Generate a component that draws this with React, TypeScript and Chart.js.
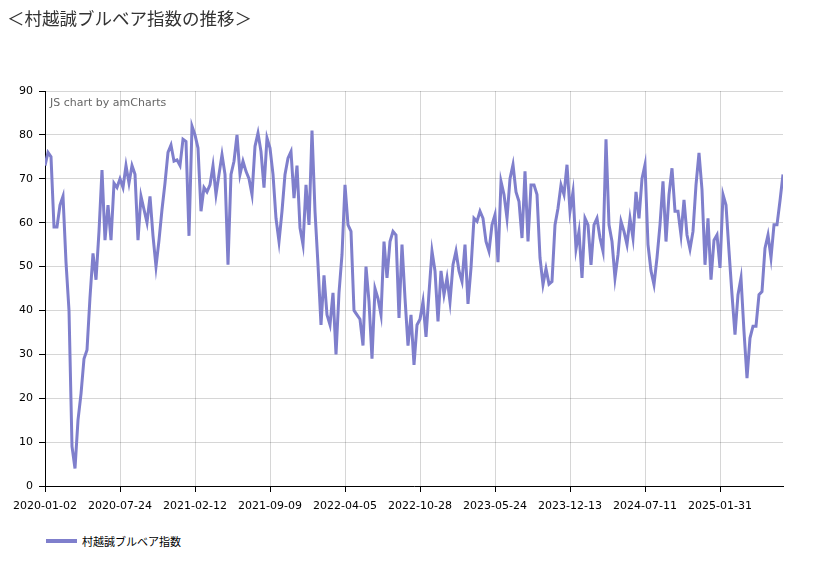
import { useEffect, useRef } from 'react';
import { Chart, registerables } from 'chart.js';

Chart.register(...registerables);

const seriesName = '村越誠ブルベア指数';

// tick labels every 25 samples along the x axis
const tickLabels = [
  '2020-01-02', '2020-07-24', '2021-02-12', '2021-09-09', '2022-04-05',
  '2022-10-28', '2023-05-24', '2023-12-13', '2024-07-11', '2025-01-31',
];
const tickStep = 25;

// index values, one sample every ~8 trading days
const bullBear = [
  73, 76, 75, 59, 59, 64, 66, 51, 40, 9, 4, 15, 21, 29, 31, 43, 53, 47, 58, 72,
  56, 64, 56, 69, 68, 70, 68, 73, 69, 73, 71, 56, 66, 63, 60, 66, 57, 50, 56, 63,
  69, 76, 77.7, 74, 74.3, 73, 79, 78.5, 57, 82, 80, 77, 62.6, 68, 67, 68.6, 73, 66.4, 71, 75.5,
  71, 50.4, 71, 74, 80, 71, 74, 71.7, 70, 66.4, 77.4, 80.4, 76.2, 68, 79.3, 77, 71, 61, 55.7, 62.6,
  71, 74.7, 76.2, 65.6, 73, 58.8, 55, 68.6, 59.5, 81, 62.6, 50.4, 36.7, 48, 39, 36.7, 44, 30, 44, 52.7,
  68.6, 59.5, 58, 40, 39, 38, 32, 50, 42, 29, 45, 42.7, 39, 55.7, 47.4, 55.7, 58, 57.2, 38.3, 55,
  42.8, 32, 39, 27.6, 36.7, 38, 42, 34, 44, 53.5, 49, 37.5, 49, 43.6, 47.4, 42, 50.4, 53.5, 49, 46.6,
  55, 41.5, 49.7, 61, 60.3, 62.6, 61, 55.7, 53.5, 59.5, 61.8, 51, 69.4, 66.4, 61, 70, 73.2, 67, 64.8, 56.5,
  71.7, 55.7, 68.6, 68.6, 66.4, 52, 45.9, 49.5, 46, 46.6, 59.5, 63.3, 68.6, 66.4, 73.2, 62.6, 67, 54, 58, 47.4,
  61, 59.5, 50.4, 59.5, 61, 56.5, 53.5, 79, 59.5, 55.7, 47.4, 52.7, 60.3, 58, 55, 61, 56.5, 67, 61, 70,
  73.2, 55, 49, 45.9, 52, 59.5, 69.4, 55.7, 66.4, 72.4, 62.6, 62.6, 57.2, 65.2, 57.2, 54, 58, 68.6, 75.9, 67.5,
  50.4, 61, 47, 56, 57.2, 49.7, 66.4, 64, 53.5, 43.6, 34.5, 43.6, 47.4, 35.2, 24.6, 33.7, 36.4, 36.4, 43.6, 44.3,
  54.2, 57.2, 52, 59.5, 59.5, 65, 71,
];

const lineColor = '#7f7fcc';

const watermark = {
  id: 'watermark',
  afterDraw(chart: Chart) {
    const { ctx, chartArea } = chart;
    ctx.save();
    ctx.font = '11px "DejaVu Sans", sans-serif';
    ctx.fillStyle = '#666';
    ctx.textBaseline = 'middle';
    ctx.fillText('JS chart by amCharts', chartArea.left + 5, chartArea.top + 12);
    ctx.restore();
  },
};

export default function App() {
  const canvasRef = useRef<HTMLCanvasElement>(null);
  const chartRef = useRef<Chart | null>(null);

  useEffect(() => {
    if (!canvasRef.current) return;
    if (chartRef.current) chartRef.current.destroy();

    chartRef.current = new Chart(canvasRef.current, {
      type: 'line',
      data: {
        datasets: [{
          label: seriesName,
          data: bullBear.map((v, i) => ({ x: i, y: v })),
          borderColor: lineColor,
          backgroundColor: lineColor,
          borderWidth: 3,
          pointRadius: 0,
          tension: 0,
        }],
      },
      options: {
        animation: false,
        responsive: true,
        maintainAspectRatio: false,
        layout: { padding: { top: 91, left: 0, right: 39, bottom: 9 } },
        plugins: {
          legend: { display: false },
          tooltip: { enabled: false },
        },
        scales: {
          x: {
            type: 'linear',
            min: 0,
            max: bullBear.length - 1,
            afterBuildTicks: (scale: any) => {
              scale.ticks = tickLabels.map((_, i) => ({ value: i * tickStep }));
            },
            afterFit: (scale: any) => { scale.height = 30; },
            border: { color: '#000', width: 1 },
            grid: { color: 'rgba(0,0,0,0.16)', tickColor: '#000', tickLength: 6 },
            ticks: {
              color: '#000',
              padding: 8,
              maxRotation: 0,
              autoSkip: false,
              font: { family: '"DejaVu Sans", sans-serif', size: 11 },
              callback: (v: any) => tickLabels[Math.round(Number(v) / tickStep)] ?? '',
            },
          },
          y: {
            min: 0,
            max: 90,
            afterFit: (scale: any) => { scale.width = 45; },
            border: { color: '#000', width: 1 },
            grid: { color: 'rgba(0,0,0,0.16)', tickColor: '#000', tickLength: 6 },
            ticks: {
              stepSize: 10,
              color: '#000',
              padding: 6,
              font: { family: '"DejaVu Sans", sans-serif', size: 11 },
            },
          },
        },
      },
      plugins: [watermark],
    });

    return () => {
      if (chartRef.current) {
        chartRef.current.destroy();
        chartRef.current = null;
      }
    };
  }, []);

  return (
    <div style={{ position: 'fixed', left: 0, top: 0, width: 822, height: 563, background: '#fff', fontFamily: '"Noto Sans CJK JP", sans-serif' }}>
      <div style={{ position: 'absolute', left: 0, top: 0, width: 822, height: 525 }}>
        <canvas ref={canvasRef} />
      </div>
      <div style={{ position: 'absolute', left: 7, top: 6, fontSize: 17.5, color: '#333', lineHeight: '24px' }}>
        ＜村越誠ブルベア指数の推移＞
      </div>
      <div style={{ position: 'absolute', left: 46, top: 533, display: 'flex', alignItems: 'center', fontSize: 11, color: '#000', lineHeight: '16px' }}>
        <span style={{ display: 'inline-block', width: 31, height: 4, background: lineColor, marginRight: 5 }} />
        <span>{seriesName}</span>
      </div>
    </div>
  );
}
